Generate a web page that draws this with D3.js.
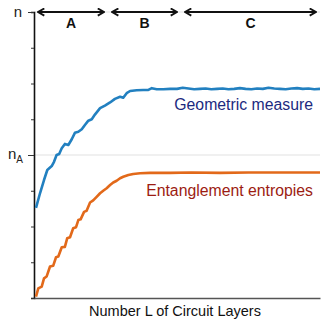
<!DOCTYPE html>
<html><head><meta charset="utf-8">
<script src="https://cdn.jsdelivr.net/npm/d3@7"></script>
<style>body{margin:0;background:#fff}svg{display:block;font-family:"Liberation Sans",Arial,sans-serif}</style>
</head><body><svg id="c" width="327" height="330"></svg>
<script>
const geoL = [0.7,2.1,3.5,4.65,6.2,7.0,7.9,8.8,9.7,10.8,12.0,13.2,14.3,15.5,16.7,17.8,19.0,20.2,21.3,23.1,24.8,26.6,28.3,30.1,31.2,32.4,33.6,35.9,38.2,40.0,41.2,42.9,45.2,47.6,50,52,54,56,58,60,62,64,66,68,70,72,74,76,78,80,82,84,86,88,90,92,94,96,98,100];
const geoV = [2.52,2.93,3.30,3.58,3.69,3.81,4.00,4.03,4.19,4.31,4.28,4.44,4.62,4.65,4.72,4.84,4.96,5.00,5.13,5.31,5.38,5.47,5.57,5.63,5.60,5.73,5.79,5.81,5.82,5.82,5.87,5.84,5.84,5.85,5.85,5.88,5.86,5.84,5.85,5.86,5.84,5.85,5.86,5.84,5.85,5.87,5.85,5.84,5.86,5.85,5.88,5.86,5.85,5.84,5.86,5.87,5.85,5.86,5.84,5.85];
const entL = [0.7,1.5,2.7,3.5,4.4,5.6,6.7,7.7,8.5,9.7,10.8,11.6,12.6,13.7,14.7,15.5,16.3,17.5,18.4,19.6,20.7,21.9,23.1,24.2,25.4,26.6,27.7,28.9,30.1,31.2,33.0,34.7,37.1,40.6,47.6,55,65,75,85,100];
const entV = [0.04,0.27,0.32,0.55,0.60,0.88,0.90,1.14,1.16,1.42,1.43,1.67,1.70,1.95,1.98,2.18,2.20,2.41,2.44,2.67,2.73,2.83,2.93,3.00,3.07,3.16,3.23,3.28,3.35,3.39,3.44,3.47,3.49,3.50,3.50,3.51,3.50,3.51,3.51,3.51];
const yTicks = [0,1,2,3,4,5,6,7,8];
const yMajor = [4,8];
const regionBounds = [0,25.9,51.4,100];
const regionLabels = ["A","B","C"];
const xLabel = "Number L of Circuit Layers";
const seriesLabels = ["Geometric measure","Entanglement entropies"];

const svg = d3.select("#c");
const x = d3.scaleLinear().domain([0,100]).range([34,320]);
const y = d3.scaleLinear().domain([0,8]).range([298,12]);

svg.selectAll(".grid").data(yMajor).enter().append("line")
  .attr("x1",x(0)).attr("x2",x(100)).attr("y1",d=>y(d)).attr("y2",d=>y(d))
  .attr("stroke","#e2e2e2").attr("stroke-width",1.2);

const yAxis = d3.axisLeft(y).tickValues(yTicks).tickFormat("").tickSizeOuter(0).tickSize(3);
const ga = svg.append("g").attr("transform",`translate(${x(0)},0)`).call(yAxis);
ga.select(".domain").attr("stroke","#111").attr("stroke-width",1.6);
ga.selectAll(".tick line").attr("stroke","#333").attr("x2",d=>yMajor.includes(d)?-6:-3);

const gx = svg.append("g").attr("transform",`translate(0,${y(0)})`)
  .call(d3.axisBottom(x).tickValues([]).tickSizeOuter(0));
gx.select(".domain").attr("stroke","#555").attr("stroke-width",1.6);

svg.append("text").attr("x",22).attr("y",y(8)+5).attr("text-anchor","end")
  .attr("font-size",15).attr("fill","#222").text("n");
const na = svg.append("text").attr("x",8).attr("y",y(4)+4).attr("font-size",15).attr("fill","#222");
na.append("tspan").text("n");
na.append("tspan").attr("font-size",10).attr("dy",4).text("A");

const line = d3.line().x(d=>x(d[0])).y(d=>y(d[1]));
svg.append("path").datum(entL.map((l,i)=>[l,entV[i]])).attr("d",line)
  .attr("fill","none").attr("stroke","#e2691a").attr("stroke-width",2.6).attr("stroke-linejoin","round");
svg.append("path").datum(geoL.map((l,i)=>[l,geoV[i]])).attr("d",line)
  .attr("fill","none").attr("stroke","#2280c0").attr("stroke-width",2.6).attr("stroke-linejoin","round");

svg.append("text").attr("x",313).attr("y",110).attr("text-anchor","end")
  .attr("font-size",15.8).attr("fill","#1c2a80").text(seriesLabels[0]);
svg.append("text").attr("x",313).attr("y",196).attr("text-anchor","end")
  .attr("font-size",15.8).attr("fill","#9c1c12").text(seriesLabels[1]);

const defs = svg.append("defs");
function marker(id, path){
  defs.append("marker").attr("id",id).attr("viewBox","0 0 10 10").attr("refX",id==="e"?9:1).attr("refY",5)
    .attr("markerWidth",4.5).attr("markerHeight",4.5).attr("markerUnits","strokeWidth").attr("orient","auto")
    .append("path").attr("d",path).attr("fill","none").attr("stroke","#111").attr("stroke-width",2);
}
marker("e","M2,1 L9,5 L2,9");
marker("s","M8,1 L1,5 L8,9");
regionLabels.forEach((lab,i)=>{
  const x1 = x(regionBounds[i])+4, x2 = x(regionBounds[i+1])-4;
  svg.append("line").attr("x1",x1).attr("x2",x2).attr("y1",y(8)).attr("y2",y(8))
    .attr("stroke","#111").attr("stroke-width",2)
    .attr("marker-start","url(#s)").attr("marker-end","url(#e)");
  svg.append("text").attr("x",(x1+x2)/2).attr("y",28).attr("text-anchor","middle")
    .attr("font-size",14).attr("font-weight","bold").attr("fill","#111").text(lab);
});

svg.append("text").attr("x",175).attr("y",316).attr("text-anchor","middle")
  .attr("font-size",14.5).attr("fill","#111").text(xLabel);
</script></body></html>
